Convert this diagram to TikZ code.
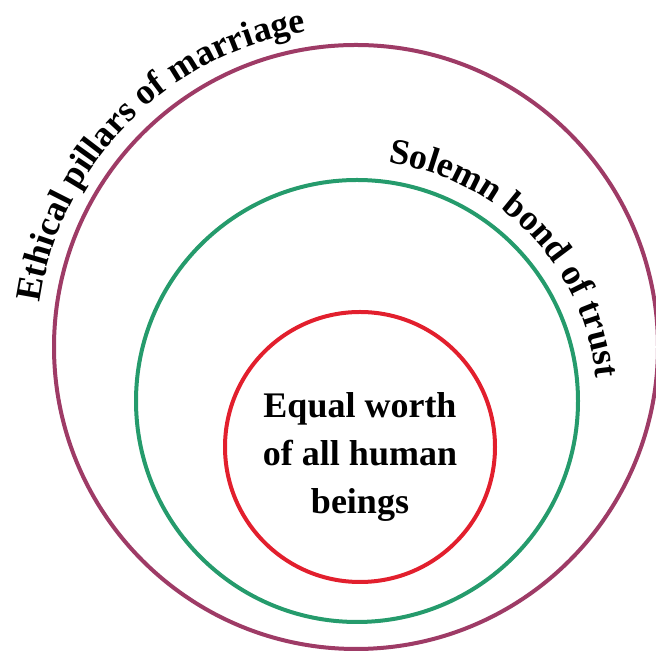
\documentclass[tikz,border=0pt]{standalone}
\usepackage{fontspec}
\setmainfont{Liberation Serif}
\usetikzlibrary{decorations.text}

\definecolor{pillarcol}{RGB}{158,59,102}
\definecolor{bondcol}{RGB}{37,155,108}
\definecolor{worthcol}{RGB}{226,31,45}
\newcommand{\ringfont}{\bfseries\fontsize{36}{48}\selectfont}

\begin{document}
\begin{tikzpicture}[x=1pt, y=1pt]
    \tikzset{ring/.style={line width=4pt},
             arclabel/.style={decorate, decoration={text along path, text align=center, text={|\ringfont|#1}}}}
    \useasboundingbox (0,0) rectangle (656,652);
    \coordinate (Cpillar) at (356,305);
    \coordinate (Cbond) at (357,251);
    \coordinate (Cworth) at (360,205);
    \draw[ring, pillarcol] (Cpillar) circle[radius=302];
    \draw[ring, bondcol] (Cbond) circle[radius=221];
    \draw[ring, worthcol] (Cworth) circle[radius=135];
    \path[arclabel=Ethical pillars of marriage] ([shift={(180:319)}]Cpillar) arc[start angle=180, end angle=91, radius=319];
    \path[arclabel=Solemn bond of trust] ([shift={(90:240)}]Cbond) arc[start angle=90, end angle=-2, radius=240];
    \node[font=\ringfont, align=center] (worth) at (360,195) {Equal worth\\of all human\\beings};
\end{tikzpicture}
\end{document}
